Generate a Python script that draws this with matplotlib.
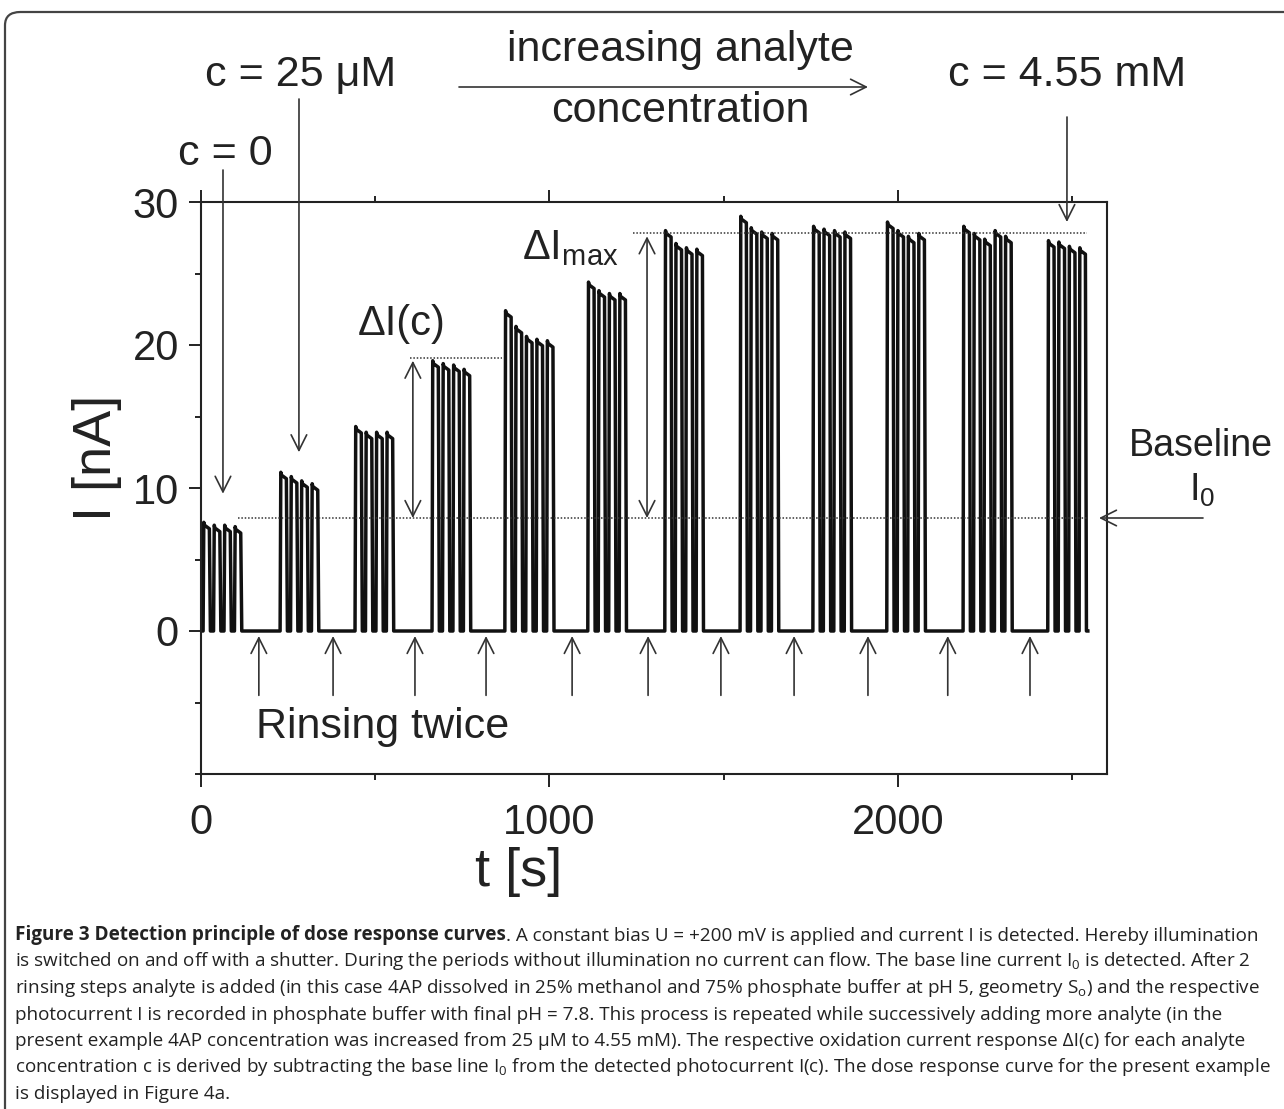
import matplotlib
matplotlib.use("Agg")
import matplotlib.pyplot as plt
from matplotlib.patches import FancyBboxPatch
from matplotlib.ticker import MultipleLocator

W, H = 1284, 1109

# shutter pulse groups: start time [s] and peak current [nA] of each pulse
group_start = [6, 227, 442, 663, 872, 1110, 1331, 1547, 1756, 1968, 2187, 2430]
group_peaks = [
    [7.6, 7.4, 7.4, 7.3],
    [11.1, 10.8, 10.5, 10.3],
    [14.3, 13.9, 13.9, 13.9],
    [18.9, 18.7, 18.6, 18.3],
    [22.4, 21.3, 20.6, 20.4, 20.3],
    [24.4, 23.8, 23.6, 23.6],
    [28.0, 27.1, 26.8, 26.7],
    [29.0, 28.2, 27.9, 27.8],
    [28.3, 28.1, 28.0, 27.9],
    [28.6, 28.0, 27.6, 27.8],
    [28.3, 27.8, 27.4, 28.0, 27.6],
    [27.3, 27.2, 26.9, 26.8],
]
period = 30
on_time = 21
t_end = 2545

baseline = 7.9
dI_level = 19.1
dImax_level = 27.8
rinse_t = [166, 379, 614, 818, 1065, 1283, 1492, 1702, 1914, 2143, 2379]

caption_bold = "Figure 3 Detection principle of dose response curves"
caption_lines = [
    ". A constant bias U = +200 mV is applied and current I is detected. Hereby illumination",
    "is switched on and off with a shutter. During the periods without illumination no current can flow. "
    "The base line current I$\\mathregular{_0}$ is detected. After 2",
    "rinsing steps analyte is added (in this case 4AP dissolved in 25% methanol and 75% phosphate buffer "
    "at pH 5, geometry S$\\mathregular{_o}$) and the respective",
    "photocurrent I is recorded in phosphate buffer with final pH = 7.8. This process is repeated while "
    "successively adding more analyte (in the",
    "present example 4AP concentration was increased from 25 \u03bcM to 4.55 mM). The respective oxidation "
    "current response \u0394I(c) for each analyte",
    "concentration c is derived by subtracting the base line I$\\mathregular{_0}$ from the detected "
    "photocurrent I(c). The dose response curve for the present example",
    "is displayed in Figure 4a.",
]


def build_trace():
    t, cur = [0.0], [0.0]
    for start, peaks in zip(group_start, group_peaks):
        for i, pk in enumerate(peaks):
            s = start + i * period
            t += [s, s + 2, s + 4, s + on_time - 3, s + on_time]
            cur += [0.0, pk, pk - 0.2, pk - 0.45, 0.0]
    t.append(t_end)
    cur.append(0.0)
    return t, cur


def fpx(x, y):
    # figure pixel position measured from the top left corner
    return (x, H - y)


plt.rcParams["font.family"] = ["Liberation Sans", "DejaVu Sans"]
plt.rcParams["mathtext.fontset"] = "custom"
plt.rcParams["mathtext.rm"] = "Liberation Sans"

fig = plt.figure(figsize=(W / 100, H / 100), dpi=100)
ax = fig.add_axes([201 / W, 1 - 774 / H, 906 / W, 572 / H])

t, cur = build_trace()
ax.plot(t, cur, color="#111111", lw=2.5, solid_joinstyle="round")

ax.set_xlim(0, 2600)
ax.set_ylim(-10, 30)
ax.xaxis.set_major_locator(MultipleLocator(1000))
ax.xaxis.set_minor_locator(MultipleLocator(500))
ax.yaxis.set_major_locator(MultipleLocator(10))
ax.yaxis.set_minor_locator(MultipleLocator(5))
ax.set_yticks([0, 10, 20, 30])
ax.tick_params(which="both", direction="out", width=1.4, top=True, right=False,
               labelsize=30, colors="#222222")
ax.tick_params(which="major", length=9)
ax.tick_params(which="minor", length=4.5)
ax.tick_params(axis="x", pad=12)
ax.tick_params(axis="y", pad=7)
for sp in ax.spines.values():
    sp.set_linewidth(1.5)
    sp.set_color("#222222")

fig.text(97 / W, 1 - 458 / H, "I [nA]", rotation=90, fontsize=39, ha="center", va="center", color="#222222")
fig.text(519 / W, 1 - 872 / H, "t [s]", fontsize=39, ha="center", va="center", color="#222222")

# reference levels
dot = dict(color="#333333", lw=1.1, ls=(0, (1, 1.2)))
ax.plot([106, 2543], [baseline, baseline], **dot)
ax.plot([600, 864], [dI_level, dI_level], **dot)
ax.plot([1240, 2543], [dImax_level, dImax_level], **dot)

arr = dict(arrowstyle="->", color="#333333", lw=1.2, mutation_scale=28, shrinkA=0, shrinkB=0)
darr = dict(arrowstyle="<->", color="#333333", lw=1.2, mutation_scale=28, shrinkA=0, shrinkB=0)

ax.annotate("", xy=(608, baseline), xytext=(608, dI_level - 0.2), arrowprops=darr)
ax.annotate("", xy=(1280, baseline), xytext=(1280, dImax_level - 0.2), arrowprops=darr)
ax.text(577, 21.5, "\u0394I(c)", fontsize=30, ha="center", va="center", color="#222222")
ax.text(1059, 26.8, "\u0394I$\\mathregular{_{max}}$", fontsize=30, ha="center", va="center", color="#222222")

for x in rinse_t:
    ax.annotate("", xy=(x, -0.35), xytext=(x, -4.5), arrowprops=arr)
ax.text(158, -6.7, "Rinsing twice", fontsize=31, ha="left", va="center", color="#222222")

# concentration labels above the axes
ax.annotate("", xy=(63, 9.6), xycoords="data", xytext=fpx(223, 170), textcoords="figure pixels",
            arrowprops=arr, annotation_clip=False)
ax.annotate("", xy=(281, 12.5), xycoords="data", xytext=fpx(299, 99), textcoords="figure pixels",
            arrowprops=arr, annotation_clip=False)
ax.annotate("", xy=(2485, 28.6), xycoords="data", xytext=fpx(1067, 117), textcoords="figure pixels",
            arrowprops=arr, annotation_clip=False)
fig.text(225 / W, 1 - 154 / H, "c = 0", fontsize=31, ha="center", va="center", color="#222222")
fig.text(301 / W, 1 - 75 / H, "c = 25 \u03bcM", fontsize=31, ha="center", va="center", color="#222222")
fig.text(1067 / W, 1 - 75 / H, "c = 4.55 mM", fontsize=31, ha="center", va="center", color="#222222")
fig.text(680 / W, 1 - 50 / H, "increasing analyte", fontsize=31, ha="center", va="center", color="#222222")
fig.text(680 / W, 1 - 111 / H, "concentration", fontsize=31, ha="center", va="center", color="#222222")
fig.add_artist(plt.Annotation("", xy=fpx(868, 87), xycoords="figure pixels", xytext=fpx(459, 87),
                              textcoords="figure pixels", arrowprops=arr))

# baseline label on the right
fig.text(1201 / W, 1 - 446 / H, "Baseline", fontsize=27, ha="center", va="center", color="#222222")
fig.text(1202 / W, 1 - 490 / H, "I$\\mathregular{_0}$", fontsize=27, ha="center", va="center", color="#222222")
fig.add_artist(plt.Annotation("", xy=fpx(1099, 518), xycoords="figure pixels", xytext=fpx(1203, 518),
                              textcoords="figure pixels", arrowprops=arr))

# outer frame
frame = FancyBboxPatch((5 / W, -0.05), 1.1, 1.05 - 12 / H, boxstyle="round,pad=0,rounding_size=0.012",
                       transform=fig.transFigure, fill=False, ec="#444444", lw=1.6)
fig.patches.append(frame)

# caption
cap_font = ["Open Sans", "DejaVu Sans"]
cap_size = 13.6
y0 = 935
step = 26.5
bold = fig.text(15 / W, 1 - y0 / H, caption_bold, fontsize=cap_size, fontweight="bold",
                family=cap_font, ha="left", va="center", color="#222222")
fig.add_artist(plt.Annotation(caption_lines[0], xy=(1, 0), xycoords=bold, ha="left", va="bottom",
                              fontsize=cap_size, family=cap_font, color="#222222"))
for i, line in enumerate(caption_lines[1:], start=1):
    fig.text(15 / W, 1 - (y0 + i * step) / H, line, fontsize=cap_size, family=cap_font,
             ha="left", va="center", color="#222222")

fig.savefig("out.png", dpi=100)
